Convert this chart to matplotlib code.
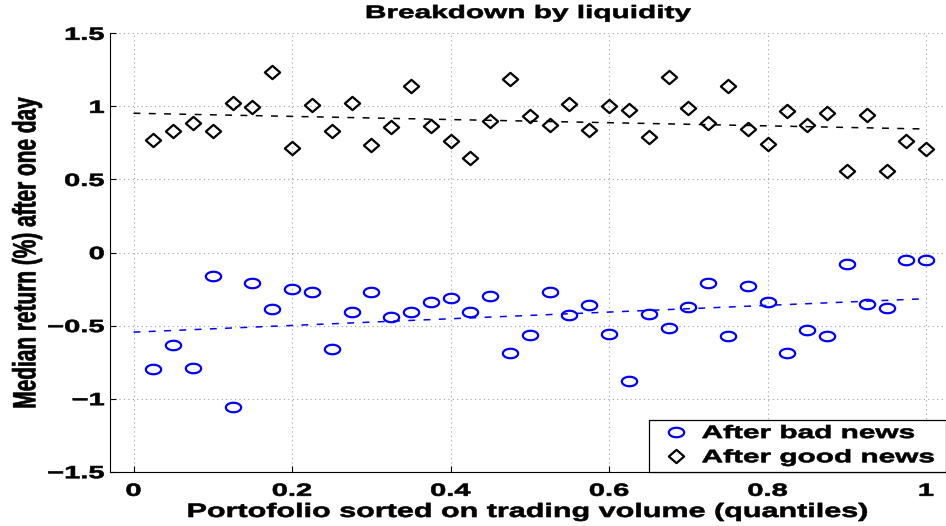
import numpy as np
import matplotlib
matplotlib.use("Agg")
import matplotlib.pyplot as plt
from matplotlib.path import Path
from matplotlib.patheffects import AbstractPathEffect
from matplotlib.transforms import Affine2D

# ---------------------------------------------------------
# Data
# ---------------------------------------------------------
quantile = [0.025, 0.05, 0.075, 0.1, 0.125, 0.15, 0.175, 0.2, 0.225, 0.25,
            0.275, 0.3, 0.325, 0.35, 0.375, 0.4, 0.425, 0.45, 0.475, 0.5,
            0.525, 0.55, 0.575, 0.6, 0.625, 0.65, 0.675, 0.7, 0.725, 0.75,
            0.775, 0.8, 0.825, 0.85, 0.875, 0.9, 0.925, 0.95, 0.975, 1.0]

after_bad = [-0.80, -0.63, -0.79, -0.16, -1.06, -0.21, -0.39, -0.25, -0.27, -0.66,
             -0.41, -0.27, -0.44, -0.41, -0.34, -0.31, -0.41, -0.30, -0.69, -0.565,
             -0.27, -0.43, -0.36, -0.556, -0.88, -0.42, -0.52, -0.37, -0.21, -0.57,
             -0.23, -0.34, -0.69, -0.53, -0.57, -0.08, -0.35, -0.38, -0.05, -0.05]

after_good = [0.77, 0.834, 0.884, 0.834, 1.021, 0.994, 1.238, 0.715, 1.010, 0.834,
              1.025, 0.738, 0.861, 1.140, 0.866, 0.761, 0.649, 0.902, 1.188, 0.934,
              0.870, 1.016, 0.836, 1.003, 0.973, 0.788, 1.203, 0.991, 0.884, 1.140,
              0.843, 0.745, 0.971, 0.873, 0.957, 0.560, 0.941, 0.558, 0.765, 0.706]

trend_x = [0.0, 1.0]
trend_bad = [-0.545, -0.316]
trend_good = [0.953, 0.845]

xticks = [0, 0.2, 0.4, 0.6, 0.8, 1]
yticks = [-1.5, -1, -0.5, 0, 0.5, 1, 1.5]

# ---------------------------------------------------------
# Helpers
# ---------------------------------------------------------
STRETCH = 1.65


class Stretch(AbstractPathEffect):
    """Widen (and slightly embolden) text glyphs -- the source image is
    horizontally stretched."""

    def __init__(self, factor=STRETCH, anchor="center", across=False, stroke=0.45):
        super().__init__()
        self.factor = factor
        self.anchor = anchor
        self.across = across
        self.stroke = stroke

    def draw_path(self, renderer, gc, tpath, affine, rgbFace=None):
        ext = tpath.get_extents()
        if self.across:
            c = 0.5 * (ext.y0 + ext.y1)
            t = Affine2D().translate(0, -c).scale(1, self.factor).translate(0, c)
        else:
            if self.anchor == "left":
                c = 0.0
            elif self.anchor == "right":
                c = ext.x1
            else:
                c = 0.5 * (ext.x0 + ext.x1)
            t = Affine2D().translate(-c, 0).scale(self.factor, 1).translate(c, 0)
        gc0 = renderer.new_gc()
        gc0.copy_properties(gc)
        gc0.set_linewidth(self.stroke)
        gc0.set_foreground(rgbFace)
        gc0.set_joinstyle("round")
        renderer.draw_path(gc0, tpath, t + affine, rgbFace)
        gc0.restore()


def ellipse_marker(ratio):
    th = np.linspace(0, 2 * np.pi, 60)
    return Path(np.column_stack([np.cos(th), ratio * np.sin(th)]), closed=True)


def diamond_marker(ratio):
    verts = [(0, ratio), (1, 0), (0, -ratio), (-1, 0), (0, ratio)]
    return Path(verts, closed=True)


# ---------------------------------------------------------
# Plot
# ---------------------------------------------------------
plt.rcParams["font.family"] = ["Liberation Sans", "DejaVu Sans"]
plt.rcParams["font.weight"] = "bold"
plt.rcParams["font.size"] = 13

fig = plt.figure(figsize=(9.46, 5.26), dpi=100)
ax = fig.add_axes([110 / 946, 54.3 / 526, 836 / 946, 438.4 / 526])

ax.plot(quantile, after_bad, ls="none", marker=ellipse_marker(0.62), ms=11,
        mfc="none", mec="#0000ff", mew=1.6, label="After bad news")
ax.plot(quantile, after_good, ls="none", marker=diamond_marker(0.87), ms=11,
        mfc="none", mec="black", mew=1.6, label="After good news")
ax.plot(trend_x, trend_bad, color="#0000ff", lw=1.1, ls=(0, (4.5, 5.5)))
ax.plot(trend_x, trend_good, color="black", lw=1.1, ls=(0, (4.5, 5.5)))

ax.set_xlim(-0.0297, 1.025)
ax.set_ylim(-1.5, 1.5)
ax.set_xticks(xticks)
ax.set_yticks(yticks)
ax.set_xticklabels(["0", "0.2", "0.4", "0.6", "0.8", "1"])
ax.set_yticklabels(["\u22121.5", "\u22121", "\u22120.5", "0", "0.5", "1", "1.5"])
ax.tick_params(direction="in", length=4, width=0.8, top=False, right=False,
               labelsize=12.7)
ax.tick_params(axis="x", pad=8)
ax.tick_params(axis="y", pad=4)
for lab in ax.get_xticklabels():
    lab.set_path_effects([Stretch()])
for lab in ax.get_yticklabels():
    lab.set_path_effects([Stretch(anchor="right")])

ax.spines["top"].set_visible(False)
ax.spines["right"].set_visible(False)
ax.grid(True, color="#a0a0a0", ls=(0, (1, 3)), lw=0.8)
ax.set_axisbelow(True)

t = ax.set_title("Breakdown by liquidity", fontsize=13, fontweight="bold", pad=11)
t.set_path_effects([Stretch()])

xl = ax.set_xlabel("Portofolio sorted on trading volume (quantiles)",
                   fontsize=14, fontweight="bold", labelpad=3)
xl.set_path_effects([Stretch(factor=1.57)])

yl = ax.set_ylabel("Median return (%) after one day", fontsize=15,
                   fontweight="bold")
ax.yaxis.set_label_coords(-0.088, 0.5)
yl.set_path_effects([Stretch(factor=1.55, across=True)])

leg = ax.legend(loc="lower left", bbox_to_anchor=(0.645, 0.0, 0.355, 0.125),
                mode="expand", borderaxespad=0, fancybox=False, framealpha=1,
                edgecolor="black", fontsize=13, handlelength=2.4,
                handletextpad=0.2, labelspacing=0.4, borderpad=0.3)
leg.get_frame().set_linewidth(0.9)
for txt in leg.get_texts():
    txt.set_path_effects([Stretch(anchor="left")])

fig.savefig("out.png", dpi=100)
